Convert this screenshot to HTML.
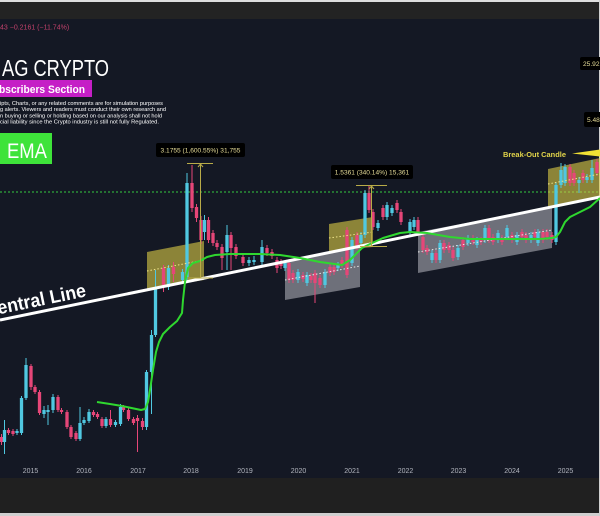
<!DOCTYPE html>
<html><head><meta charset="utf-8"><style>
html,body{margin:0;padding:0;background:#141824;}
svg{display:block;}
</style></head><body>
<svg width="600" height="516" viewBox="0 0 600 516" xmlns="http://www.w3.org/2000/svg" font-family="'Liberation Sans', sans-serif">
<rect x="0" y="0" width="600" height="516" fill="#141824"/>
<rect x="0" y="0" width="600" height="2" fill="#dedede"/>
<rect x="0" y="2" width="600" height="17" fill="#232323"/>
<rect x="0" y="478" width="600" height="35" fill="#202020"/>
<rect x="0" y="513" width="600" height="3" fill="#cfcfcf"/>
<rect x="599" y="0" width="1" height="516" fill="#cfcfcf"/>

<!-- header -->
<text x="0" y="29.5" font-size="7" fill="#c2416b">43  −0.2161 (−11.74%)</text>
<text x="2" y="76" font-size="23" fill="#ffffff" textLength="107" lengthAdjust="spacingAndGlyphs">AG CRYPTO</text>
<rect x="0" y="80" width="92" height="17" fill="#c51fc6"/>
<text x="-1" y="93" font-size="11" font-weight="bold" fill="#ffffff" textLength="86" lengthAdjust="spacingAndGlyphs">bscribers Section</text>
<g font-size="5.6" fill="#ffffff">
<text x="0" y="105" textLength="163" lengthAdjust="spacingAndGlyphs">ipts, Charts, or any related comments are for simulation purposes</text>
<text x="0" y="111" textLength="166" lengthAdjust="spacingAndGlyphs">g alerts. Viewers and readers must conduct their own research and</text>
<text x="0" y="117.5" textLength="162" lengthAdjust="spacingAndGlyphs">n buying or selling or holding based on our analysis shall not hold</text>
<text x="0" y="123.5" textLength="159" lengthAdjust="spacingAndGlyphs">cial liability since the Crypto industry is still not fully Regulated.</text>
</g>
<rect x="0" y="133" width="52" height="31" fill="#3ee33a"/>
<text x="7" y="158" font-size="21" fill="#ffffff" textLength="40" lengthAdjust="spacingAndGlyphs">EMA</text>

<!-- dotted green level -->
<line x1="0" y1="192" x2="600" y2="192" stroke="#2fa63a" stroke-width="1.2" stroke-dasharray="2 2"/>

<!-- boxes -->
<polygon points="147,252 204,241 204,280 147,289" fill="rgba(220,205,70,0.6)"/>
<polygon points="329,224 373,217 373,247 329,251" fill="rgba(220,205,70,0.6)"/>
<polygon points="548,169 600,158 600,198 548,208" fill="rgba(220,205,70,0.6)"/>
<polygon points="285,260 360,246 360,287 285,300" fill="rgba(200,200,208,0.5)"/>
<polygon points="418,232 552,207 552,248 418,273" fill="rgba(200,200,208,0.5)"/>

<!-- candles: wicks -->
<path stroke="#e64678" stroke-width="1" fill="none" d="M1.5 434V445M8.5 428V435M13 429V436M31 364V390M35 385V394M39.5 390V415M58 395V412M61.5 408V414M67 410V429M71 425V439M76 431V441M93.5 410V417M97.5 412V419M102 417V428M110.5 410V427M123.5 405V412M128.5 408V421M133.5 417V425M137.5 415V452M142.5 418V430M163.5 265V292M173.5 262V282M192 165V212M196.5 204V222M201 216V244M208.5 217V243M213 230V246M217 240V250M222 244V270M231 232V270M236 244V259M243 254V266M267 245V256M272 249V259M277 257V273M281 259V269M289 260V283M293 270V283M303 272V282M311 273V283M315 270V303M320 275V288M330 264V276M334 264V275M342 257V268M347 227V278M357 232V250M369 185V213M373 209V230M383 205V220M397 200V213M401 209V225M418 217V236M423 234V253M427 245V255M436 250V263M444 240V253M449 242V253M453 247V261M463 237V250M473 235V245M481 237V245M489 225V243M493 234V245M502 235V245M512 232V243M522 229V240M526 232V243M535 229V240M543 229V243M547 229V240M552 232V243M570 164V186M574 170V186M583 170V183M597 159V176"/>
<path stroke="#50c8e1" stroke-width="1" fill="none" d="M4.5 420V454M17 429V435M21.5 396V435M26 358V400M44 406V418M48 405V425M53 394V413M80 407V441M84 417V425M89 409V423M106 417V428M115.5 420V427M120.5 404V426M146.5 370V430M151.5 330V414M155.5 270V337M168.5 265V290M182.5 269V283M187 173V280M204.5 215V240M227 225V270M249 257V266M254 256V265M262 240V265M285 260V271M298 269V283M307 272V286M325 269V288M338 262V271M352 237V266M361 232V246M365 190V238M378 220V231M387 202V220M392 205V216M410 219V236M414 217V230M432 250V263M440 240V263M458 245V260M468 235V246M477 237V248M485 225V243M498 230V243M507 225V240M517 232V245M531 232V243M538 229V246M556 182V245M561 163V188M565 164V186M579 177V193M587 174V183M592 160V183"/>
<!-- candles: bodies -->
<path stroke="#e64678" stroke-width="3.3" fill="none" d="M1.5 437V442M8.5 430V433M13 431V434M31 366V387M35 387V392M39.5 392V413M58 397V410M61.5 410V412M67 412V427M71 427V437M76 433V439M93.5 412V415M97.5 414V417M102 419V426M110.5 419V425M123.5 407V410M128.5 410V419M133.5 419V423M137.5 418V421M142.5 421V427M163.5 268V285M173.5 267V274M192 183V208M196.5 207V218M201 220V240M208.5 220V240M213 233V243M217 243V247M222 247V258M231 235V248M236 247V256M243 257V263M267 248V253M272 252V256M277 260V268M281 262V266M289 263V280M293 273V280M303 275V279M311 276V280M315 273V283M320 278V285M330 267V273M334 267V272M342 260V265M347 230V275M357 235V247M369 193V210M373 212V227M383 208V217M397 203V210M401 212V222M418 220V233M423 237V250M427 248V252M436 253V260M444 243V250M449 245V250M453 250V258M463 240V247M473 238V242M481 240V242M489 228V240M493 237V242M502 238V242M512 235V240M522 232V237M526 235V240M535 232V237M543 232V240M547 232V237M552 235V240M570 167V183M574 173V183M583 173V180M597 162V173"/>
<path stroke="#50c8e1" stroke-width="3.3" fill="none" d="M4.5 430V442M17 431V433M21.5 398V433M26 365V398M44 410V414M48 410V412M53 397V410M80 423V439M84 420V423M89 412V421M106 419V426M115.5 422V425M120.5 407V424M146.5 372V427M151.5 335V372M155.5 287V335M168.5 268V287M182.5 272V280M187 183V277M204.5 220V232M227 235V252M249 260V263M254 260V262M262 247V262M285 263V268M298 272V280M307 275V283M325 272V285M338 265V268M352 240V263M361 235V243M365 193V235M378 223V228M387 205V217M392 208V213M410 222V233M414 220V227M432 253V260M440 243V260M458 248V257M468 238V243M477 240V245M485 228V240M498 233V240M507 228V237M517 235V242M531 235V240M538 232V243M556 185V242M561 170V185M565 167V183M579 180V183M587 177V180M592 168V180"/>

<!-- box middle dotted lines -->
<g stroke-width="1" fill="none" stroke-dasharray="1.5 2">
<line x1="147" y1="271" x2="204" y2="260" stroke="#eee48a"/>
<line x1="329" y1="238" x2="373" y2="232" stroke="#eee48a"/>
<line x1="548" y1="184" x2="600" y2="174" stroke="#eee48a"/>
<line x1="285" y1="280" x2="360" y2="266" stroke="#e8e8e8"/>
<line x1="418" y1="252" x2="552" y2="230" stroke="#e8e8e8"/>
</g>

<!-- central line -->
<line x1="0" y1="320" x2="600" y2="197" stroke="#ffffff" stroke-width="3"/>
<text x="0" y="0" font-size="19" font-weight="bold" fill="#ffffff" textLength="103" lengthAdjust="spacingAndGlyphs" transform="translate(-14,317) rotate(-11.6)">Central Line</text>

<!-- EMA -->
<polyline fill="none" stroke="#2fd82f" stroke-width="2" stroke-linejoin="round" points="97,402 110,404 122,406 141,410 145,409 148,402 150,390 153,370 156,352 159,342 163,334 170,327 177,321 182,313 183,300 185,282 188,268 193,263 200,261 207,257 215,255 230,254 260,254 280,255 300,258 320,262 342,265 350,260 355,255 362,248 370,244 383,238 400,233 410,232 427,233 450,237 470,239 500,239 540,239 552,238 556,237 560,232 565,222 570,217 580,212 590,207 600,198"/>

<!-- measurement brackets -->
<g stroke="#b9ab48" stroke-width="1" fill="none">
<line x1="187" y1="163.5" x2="213" y2="163.5"/>
<line x1="200.5" y1="163.5" x2="200.5" y2="278"/>
<line x1="188" y1="278" x2="213" y2="278"/>
<polyline points="198,167 200.5,164 203,167"/>
<line x1="356" y1="185.5" x2="387" y2="185.5"/>
<line x1="371.5" y1="185.5" x2="371.5" y2="246.5"/>
<line x1="360" y1="246.5" x2="387" y2="246.5"/>
<polyline points="369,189 371.5,186 374,189"/>
</g>

<!-- labels -->
<rect x="156" y="143" width="89" height="14" rx="2" fill="#000000"/>
<text x="200.5" y="152.7" font-size="6.6" fill="#e6dc98" text-anchor="middle">3.1755 (1,600.55%) 31,755</text>
<rect x="331" y="165" width="82" height="14" rx="2" fill="#000000"/>
<text x="372" y="174.7" font-size="6.6" fill="#e6dc98" text-anchor="middle">1.5361 (340.14%) 15,361</text>
<rect x="580" y="57" width="24" height="13" rx="2" fill="#000000"/>
<text x="583" y="66" font-size="6.6" fill="#e6dc98">25.92</text>
<rect x="584" y="112" width="20" height="15" rx="2" fill="#000000"/>
<text x="587" y="122" font-size="6.6" fill="#e6dc98">5.48</text>

<text x="503" y="157" font-size="7.6" font-weight="bold" fill="#e2d44a" textLength="63" lengthAdjust="spacingAndGlyphs">Break-Out Candle</text>
<polygon points="572,153.5 600,149.5 600,156.5" fill="#f0e034"/>

<!-- x axis -->
<g font-size="7" fill="#b2b5be" text-anchor="middle">
<text x="30.5" y="473">2015</text>
<text x="84" y="473">2016</text>
<text x="138" y="473">2017</text>
<text x="191" y="473">2018</text>
<text x="245" y="473">2019</text>
<text x="298.5" y="473">2020</text>
<text x="352" y="473">2021</text>
<text x="405.5" y="473">2022</text>
<text x="458.5" y="473">2023</text>
<text x="512" y="473">2024</text>
<text x="565.5" y="473">2025</text>
</g>
</svg>
</body></html>
